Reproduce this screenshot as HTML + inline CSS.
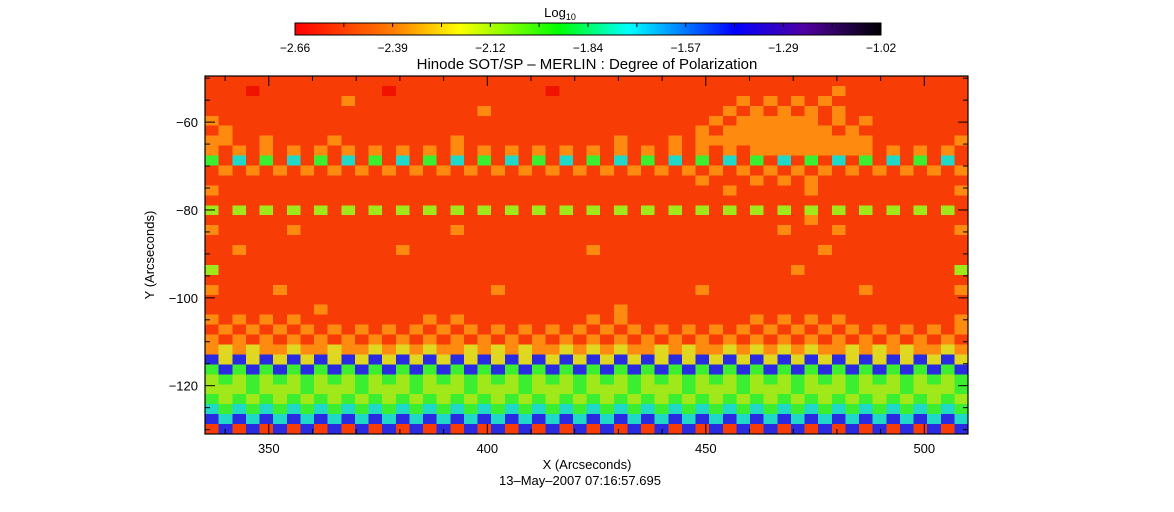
<!DOCTYPE html>
<html><head><meta charset="utf-8"><style>
html,body{margin:0;padding:0;background:#fff;}
svg{display:block;font-family:"Liberation Sans",sans-serif;}
</style></head><body>
<svg id="chart" width="1174" height="512" viewBox="0 0 1174 512" xmlns="http://www.w3.org/2000/svg">
<defs>
<linearGradient id="cbg" x1="0" x2="1" y1="0" y2="0">
<stop offset="0" stop-color="#ff0000"/><stop offset="0.17" stop-color="#ff8000"/>
<stop offset="0.28" stop-color="#ffff00"/><stop offset="0.45" stop-color="#00ff00"/>
<stop offset="0.57" stop-color="#00ffff"/><stop offset="0.75" stop-color="#0000ff"/>
<stop offset="0.87" stop-color="#5000a0"/><stop offset="1" stop-color="#000000"/>
</linearGradient>
</defs>
<text x="560" y="17" font-size="13" text-anchor="middle">Log<tspan font-size="9" dy="3">10</tspan></text>
<rect x="295" y="23" width="586" height="12" fill="url(#cbg)" stroke="#000" stroke-width="1"/>
<g id="cbticks"></g>
<text x="587" y="69" font-size="15" text-anchor="middle">Hinode SOT/SP – MERLIN : Degree of Polarization</text>
<g id="cells" shape-rendering="crispEdges"></g>
<rect x="205" y="76" width="763" height="358" fill="none" stroke="#000" stroke-width="1.2"/>
<g id="axes"></g>
<text x="154" y="255" font-size="13" text-anchor="middle" transform="rotate(-90 154 255)">Y (Arcseconds)</text>
<text x="587" y="469" font-size="13" text-anchor="middle">X (Arcseconds)</text>
<text x="580" y="485" font-size="13" text-anchor="middle">13–May–2007 07:16:57.695</text>
</svg>
<script>
const cbLabels = ["-2.66","-2.39","-2.12","-1.84","-1.57","-1.29","-1.02"];
const xTicks = [350,400,450,500];
const yTicks = [-60,-80,-100,-120];
const levelColors = ["#f01400","#f83c06","#ff8a10","#e0d820","#a0e81a","#3cee30","#20d8c8","#2a2ae0","#3a10a0"];
const gridRows = [
"11111111 11111111 11111111 11111111 11111111 11111111 11111111",
"11101111 11111011 11111111 10111111 11111111 11111121 11111111",
"11111111 11211111 11111111 11111111 11111112 12121211 11111111",
"11111111 11111111 11112111 11111111 11111121 21212121 11111111",
"21111111 11111111 11111111 11111111 11111212 22222121 21111111",
"12111111 11111111 11111111 11111111 11112122 22222212 11111111",
"22112111 12111111 11211111 11111121 11212222 22222222 21111112",
"21212121 21212121 21212121 21212121 21212121 22222222 21212121",
"51615161 51615161 51615161 51615161 51615161 51615161 51615161",
"12121212 12121212 12121212 12121212 12121212 12121212 12121212",
"11111111 11111111 11111111 11111111 11112111 21212111 11111111",
"21111111 11111111 11111111 11111111 11111121 11112111 11111112",
"11111111 11111111 11111111 11111111 11111111 11111111 11111111",
"41414141 41414141 41414141 41414141 41414141 41414141 41414141",
"11111111 11111111 11111111 11111111 11111111 11112111 11111111",
"21111121 11111111 11211111 11111111 11111111 11211121 11111112",
"11111111 11111111 11111111 11111111 11111111 11111111 11111111",
"11211111 11111121 11111111 11112111 11111111 11111211 11111111",
"11111111 11111111 11111111 11111111 11111111 11111111 11111111",
"41111111 11111111 11111111 11111111 11111111 11121111 11111114",
"11111111 11111111 11111111 11111111 11111111 11111111 11111111",
"21111211 11111111 11111211 11111111 11112111 11111111 21111112",
"11111111 11111111 11111111 11111111 11111111 11111111 11111111",
"11111111 21111111 11111111 11111121 11111111 11111111 11111111",
"21212121 11111111 21211111 11112121 11111111 21212121 11111112",
"12121212 12121212 12121212 12121212 12121212 12121212 12121212",
"21212121 21212121 21212121 21212121 21212121 21212121 21212121",
"23232232 23223232 32232323 22323232 23232232 32323223 23232232",
"73737373 73737373 73737373 73737373 73737373 73737373 73737373",
"57575757 57575757 57575757 57575757 57575757 57575757 57575757",
"45454545 45454545 45454545 45454545 45454545 45454545 45454545",
"44454445 44454445 44454445 44454445 44454445 44454445 44454445",
"54545454 54545454 54545454 54545454 54545454 54545454 54545454",
"65656565 65656565 65656565 65656565 65656565 65656565 65656565",
"76767676 76767676 76767676 76767676 76767676 76767676 76767676",
"17171717 17171717 17171717 17171717 17171717 17171717 17171717"
];
const xMin = 335.4, xMax = 510.0, yTop = -49.5, yBot = -131.0;
const L = 205, R = 968, T = 76, B = 434;
const NS = "http://www.w3.org/2000/svg";
function sx(v){ return L + (v - xMin) / (xMax - xMin) * (R - L); }
function sy(v){ return T + (yTop - v) / (yTop - yBot) * (B - T); }
function mk(tag, attrs, parent){ const e = document.createElementNS(NS, tag); for (const k in attrs) e.setAttribute(k, attrs[k]); parent.appendChild(e); return e; }

const cells = document.getElementById('cells');
const rows = gridRows.map(s => s.replace(/ /g, ''));
const nR = rows.length, nC = rows[0].length;
const dx = (xMax - xMin) / nC, dy = (yTop - yBot) / nR;
rows.forEach((row, ri) => {
  for (let ci = 0; ci < nC; ci++) {
    const lv = +row[ci];
    const x0 = sx(xMin + ci * dx), x1 = sx(xMin + (ci + 1) * dx);
    const y0 = sy(yTop - ri * dy), y1 = sy(yTop - (ri + 1) * dy);
    const r = mk('rect', {x: x0, y: y0, width: x1 - x0 + 0.5, height: y1 - y0 + 0.5, fill: levelColors[lv]}, cells);
    
    
  }
});

const ax = document.getElementById('axes');
for (let v = 340; v <= 510; v += 10) {
  const x = sx(v), major = v % 50 === 0, len = major ? 10 : 5;
  const t1 = mk('line', {x1: x, x2: x, y1: B, y2: B - len, stroke: '#000'}, ax);
  
  
  const t2 = mk('line', {x1: x, x2: x, y1: T, y2: T + len, stroke: '#000'}, ax);
  
  
}
xTicks.forEach(v => {
  const t = mk('text', {x: sx(v), y: 453, 'font-size': 13, 'text-anchor': 'middle'}, ax);
  t.textContent = v;
  
  
});
for (let v = -50; v >= -130; v -= 5) {
  const y = sy(v), major = v % 20 === 0, len = major ? 10 : 5;
  const t1 = mk('line', {x1: L, x2: L + len, y1: y, y2: y, stroke: '#000'}, ax);
  
  
  const t2 = mk('line', {x1: R, x2: R - len, y1: y, y2: y, stroke: '#000'}, ax);
  
  
}
yTicks.forEach(v => {
  const t = mk('text', {x: 198, y: sy(v) + 5, 'font-size': 13, 'text-anchor': 'end'}, ax);
  t.textContent = '\u2212' + Math.abs(v);
  
  
});

const cb = document.getElementById('cbticks');
const cbL = 295, cbR = 881;
for (let i = 1; i < 12; i++) {
  const x = cbL + i * (cbR - cbL) / 12;
  const t = mk('line', {x1: x, x2: x, y1: 23, y2: 27, stroke: '#000'}, cb);
  
  
}
cbLabels.forEach((s, i) => {
  const x = cbL + i * (cbR - cbL) / (cbLabels.length - 1);
  const t = mk('text', {x: x, y: 52, 'font-size': 12, 'text-anchor': 'middle'}, cb);
  t.textContent = s.replace('-', '\u2212');
  
  
});
</script>
</body></html>
